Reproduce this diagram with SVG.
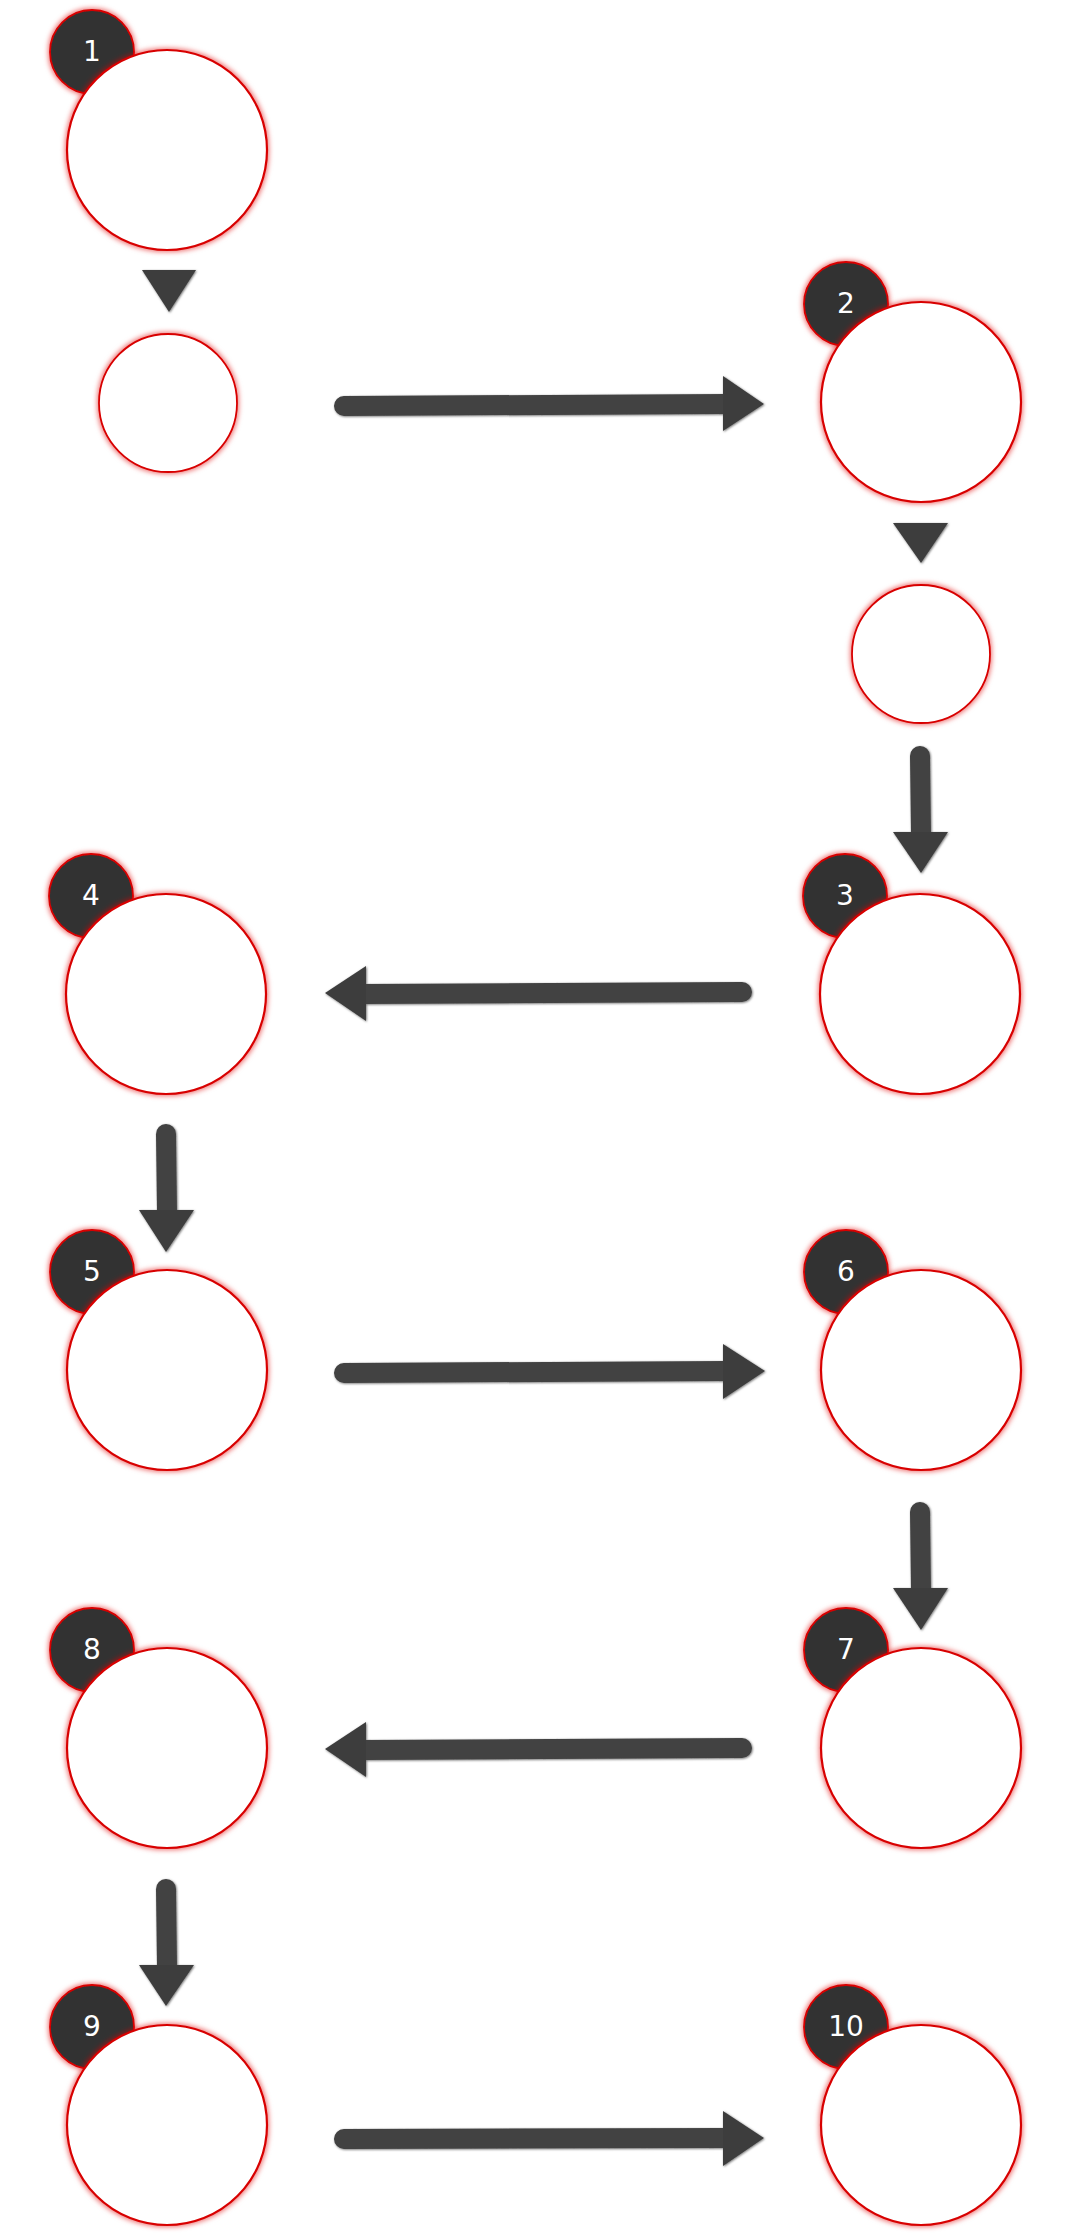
<svg xmlns="http://www.w3.org/2000/svg" width="1067" height="2240" viewBox="0 0 1067 2240">
<defs>
<filter id="glow" x="-20%" y="-20%" width="140%" height="140%">
<feMorphology in="SourceAlpha" operator="dilate" radius="1" result="d"/>
<feGaussianBlur in="d" stdDeviation="2.5" result="b"/>
<feFlood flood-color="#e00000" flood-opacity="0.55"/>
<feComposite in2="b" operator="in" result="g"/>
<feMerge><feMergeNode in="g"/><feMergeNode in="SourceGraphic"/></feMerge>
</filter>
<filter id="shade" x="-20%" y="-20%" width="140%" height="140%">
<feDropShadow dx="0.8" dy="0.8" stdDeviation="1" flood-color="#000" flood-opacity="0.55"/>
</filter>
</defs>
<style>
.big{fill:#fff;stroke:#d80000;stroke-width:2.2;filter:url(#glow)}
.small{fill:#fff;stroke:#d80000;stroke-width:1.8;filter:url(#glow)}
.badge{fill:#333;stroke:#d80000;stroke-width:1.8;filter:url(#glow)}
.num{fill:#fff;font-family:"DejaVu Sans",Verdana,sans-serif;font-size:28px;text-anchor:middle}
.shaft{stroke:#424242;stroke-width:20;stroke-linecap:round;fill:none}
.head{fill:#3e3e3e}
.arrow{filter:url(#shade)}
</style>
<rect x="0" y="0" width="1067" height="2240" fill="#fff"/>

<g id="connectors">
<g class="arrow"><line class="shaft" x1="344" y1="406" x2="726" y2="404"/><polygon class="head" points="723,376 764,404 723,431"/></g>
<g class="arrow"><line class="shaft" x1="920" y1="756" x2="921" y2="835"/><polygon class="head" points="893,832 948,832 921,873"/></g>
<g class="arrow"><line class="shaft" x1="742" y1="992" x2="363" y2="994"/><polygon class="head" points="366,966 325,993 366,1021"/></g>
<g class="arrow"><line class="shaft" x1="166" y1="1134" x2="167" y2="1213"/><polygon class="head" points="139,1210 194,1210 166,1252"/></g>
<g class="arrow"><line class="shaft" x1="344" y1="1373" x2="726" y2="1371"/><polygon class="head" points="723,1344 765,1371 723,1399"/></g>
<g class="arrow"><line class="shaft" x1="920" y1="1512" x2="921" y2="1591"/><polygon class="head" points="893,1588 948,1588 921,1630"/></g>
<g class="arrow"><line class="shaft" x1="742" y1="1748" x2="363" y2="1750"/><polygon class="head" points="366,1722 325,1749 366,1777"/></g>
<g class="arrow"><line class="shaft" x1="166" y1="1889" x2="167" y2="1968"/><polygon class="head" points="139,1965 194,1965 166,2006"/></g>
<g class="arrow"><line class="shaft" x1="344" y1="2139" x2="726" y2="2138"/><polygon class="head" points="723,2111 764,2138 723,2166"/></g>
<g class="arrow"><polygon class="head" points="142,270 196,270 169,312"/></g>
<g class="arrow"><polygon class="head" points="893,523 948,523 921,563"/></g>
</g>

<g id="node1"><circle class="badge" cx="92" cy="52" r="42"/><text class="num" x="92" y="61">1</text><circle class="big" cx="167" cy="150" r="100"/></g>
<g id="node1b"><circle class="small" cx="168" cy="403" r="69"/></g>
<g id="node2"><circle class="badge" cx="846" cy="304" r="42"/><text class="num" x="846" y="313">2</text><circle class="big" cx="921" cy="402" r="100"/></g>
<g id="node2b"><circle class="small" cx="921" cy="654" r="69"/></g>
<g id="node3"><circle class="badge" cx="845" cy="896" r="42"/><text class="num" x="845" y="905">3</text><circle class="big" cx="920" cy="994" r="100"/></g>
<g id="node4"><circle class="badge" cx="91" cy="896" r="42"/><text class="num" x="91" y="905">4</text><circle class="big" cx="166" cy="994" r="100"/></g>
<g id="node5"><circle class="badge" cx="92" cy="1272" r="42"/><text class="num" x="92" y="1281">5</text><circle class="big" cx="167" cy="1370" r="100"/></g>
<g id="node6"><circle class="badge" cx="846" cy="1272" r="42"/><text class="num" x="846" y="1281">6</text><circle class="big" cx="921" cy="1370" r="100"/></g>
<g id="node7"><circle class="badge" cx="846" cy="1650" r="42"/><text class="num" x="846" y="1659">7</text><circle class="big" cx="921" cy="1748" r="100"/></g>
<g id="node8"><circle class="badge" cx="92" cy="1650" r="42"/><text class="num" x="92" y="1659">8</text><circle class="big" cx="167" cy="1748" r="100"/></g>
<g id="node9"><circle class="badge" cx="92" cy="2027" r="42"/><text class="num" x="92" y="2036">9</text><circle class="big" cx="167" cy="2125" r="100"/></g>
<g id="node10"><circle class="badge" cx="846" cy="2027" r="42"/><text class="num" x="846" y="2036">10</text><circle class="big" cx="921" cy="2125" r="100"/></g>
</svg>
